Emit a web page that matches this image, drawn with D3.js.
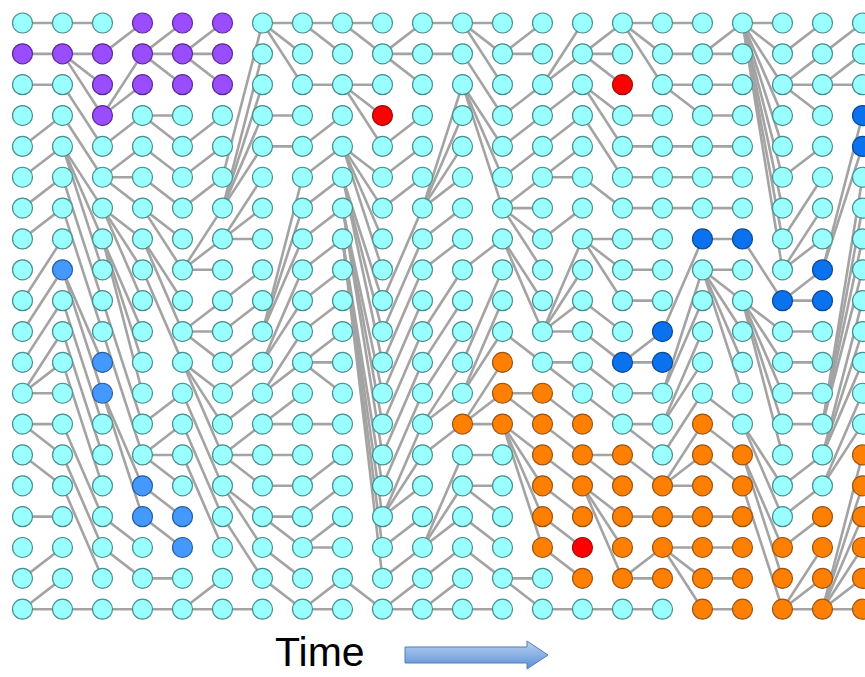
<!DOCTYPE html>
<html>
<head>
<meta charset="utf-8">
<script src="https://cdn.jsdelivr.net/npm/d3@7"></script>
<style>
  body { margin: 0; background: #fff; }
  svg { display: block; }
</style>
</head>
<body>
<svg id="chart" width="865" height="677"></svg>
<script>
// one column per generation, one row per individual
const generations = d3.range(22);
const slots = d3.range(20);

// parent row (in the previous generation) of each individual, generations 1..21
const parents = [
  [0,1,2,4,5,6,7,9,10,11,12,12,12,13,13,14,16,18,19,19],
  [0,1,1,1,2,3,4,4,4,5,6,8,8,9,10,11,13,14,15,19],
  [1,3,3,4,5,5,5,6,6,6,7,7,7,9,10,12,12,16,17,19],
  [1,1,1,3,3,4,5,6,6,7,7,8,13,14,14,14,15,16,18,19],
  [1,1,1,4,5,6,8,8,8,10,10,10,11,11,11,12,13,14,19,19],
  [5,6,6,6,6,7,7,7,9,10,11,12,13,14,14,14,15,15,16,19],
  [0,0,0,3,4,10,10,10,11,11,12,12,13,13,14,15,16,16,17,18],
  [0,0,2,4,5,6,7,8,9,10,11,11,11,13,15,16,17,17,19,19],
  [0,0,2,2,2,4,4,4,4,5,5,5,6,6,6,7,7,7,7,18],
  [1,1,1,4,5,6,9,10,11,12,13,14,15,16,16,16,17,18,19,19],
  [0,1,6,6,6,6,7,8,10,11,12,13,13,14,17,17,17,18,19,19],
  [0,0,0,1,2,2,2,8,11,12,12,13,13,13,14,15,15,16,17,19],
  [1,1,3,4,5,6,6,6,6,7,7,10,12,12,13,13,13,13,18,18],
  [2,2,3,4,5,5,7,10,10,10,10,11,11,12,13,14,15,16,17,19],
  [1,1,1,2,2,3,5,7,7,7,9,10,11,12,14,14,15,15,15,19],
  [0,0,0,3,4,5,6,7,8,9,11,11,12,13,13,14,16,18,18,19],
  [0,1,2,2,4,5,6,10,12,12,13,13,14,15,15,15,16,17,17,17],
  [1,1,2,3,4,5,6,7,8,8,8,8,8,12,13,14,16,17,18,19],
  [0,0,0,0,0,0,0,0,0,7,9,9,9,9,9,13,13,14,14,15],
  [1,2,2,2,5,7,8,8,9,9,10,11,12,13,15,16,17,19,19,19],
  [1,2,2,8,8,13,13,13,13,14,14,14,15,15,19,19,19,19,19,19]
];

// coloured lineages as [generation, row]
const purpleNodes = [[0,1],[1,1],[2,1],[2,2],[2,3],[3,0],[3,1],[3,2],[4,0],[4,1],[4,2],[5,0],[5,1],[5,2]];
const lightBlueNodes = [[1,8],[2,11],[2,12],[3,15],[3,16],[4,16],[4,17]];
const darkBlueNodes = [[15,11],[16,10],[16,11],[17,7],[18,7],[19,9],[20,8],[20,9],[21,3],[21,4]];
const redNodes = [[9,3],[15,2],[14,17]];
const orangeNodes = [
  [11,13],[12,11],[12,12],[12,13],
  [13,12],[13,13],[13,14],[13,15],[13,16],[13,17],
  [14,13],[14,14],[14,15],[14,16],[14,18],
  [15,14],[15,15],[15,16],[15,17],[15,18],
  [16,15],[16,16],[16,17],[16,18],
  [17,13],[17,14],[17,15],[17,16],[17,17],[17,18],[17,19],
  [18,14],[18,15],[18,16],[18,17],[18,18],[18,19],
  [19,17],[19,18],[19,19],
  [20,16],[20,17],[20,18],[20,19],
  [21,14],[21,15],[21,16],[21,17],[21,18],[21,19]
];
const axisLabel = 'Time';

const NODE_RADIUS_PX = 10;

const svg = d3.select('#chart');

const x = d3.scaleLinear().domain([0, 21]).range([22.5, 862.5]);
const y = d3.scaleLinear().domain([0, 19]).range([23, 609.2]);

const palette = {
  base: { fill: '#99ffff', stroke: '#4a8e8e' },
  purple: { fill: '#9a4dff', stroke: '#5b2a9a' },
  lightBlue: { fill: '#4499ff', stroke: '#2a5e9e' },
  darkBlue: { fill: '#0a72ee', stroke: '#0b4a94' },
  red: { fill: '#ff0000', stroke: '#9a1010' },
  orange: { fill: '#ff8000', stroke: '#9a5418' }
};

const colourOf = new Map();
const mark = (list, key) => list.forEach(([g, r]) => colourOf.set(g + ':' + r, key));
mark(purpleNodes, 'purple');
mark(lightBlueNodes, 'lightBlue');
mark(darkBlueNodes, 'darkBlue');
mark(orangeNodes, 'orange');
mark(redNodes, 'red');

const links = [];
parents.forEach((col, i) => {
  col.forEach((p, r) => links.push({ g: i + 1, r: r, p: p }));
});

svg.append('g')
  .attr('class', 'links')
  .selectAll('line')
  .data(links)
  .join('line')
    .attr('x1', d => x(d.g - 1))
    .attr('y1', d => y(d.p))
    .attr('x2', d => x(d.g))
    .attr('y2', d => y(d.r))
    .attr('stroke', '#a3a3a3')
    .attr('stroke-width', 2.6);

const nodes = [];
generations.forEach(g => slots.forEach(r => nodes.push({ g, r, c: colourOf.get(g + ':' + r) || 'base' })));

svg.append('g')
  .attr('class', 'nodes')
  .selectAll('circle')
  .data(nodes)
  .join('circle')
    .attr('cx', d => x(d.g))
    .attr('cy', d => y(d.r))
    .attr('r', NODE_RADIUS_PX)
    .attr('fill', d => palette[d.c].fill)
    .attr('stroke', d => palette[d.c].stroke)
    .attr('stroke-width', 1.2);

// "Time" label and block arrow
svg.append('text')
  .attr('x', 275)
  .attr('y', 666)
  .attr('font-family', 'Liberation Sans, Arial, sans-serif')
  .attr('font-size', 41)
  .attr('fill', '#000')
  .text(axisLabel);

const defs = svg.append('defs');
const grad = defs.append('linearGradient')
  .attr('id', 'arrowFill')
  .attr('x1', 0).attr('y1', 0).attr('x2', 0).attr('y2', 1);
grad.append('stop').attr('offset', '0%').attr('stop-color', '#b9d3f3');
grad.append('stop').attr('offset', '100%').attr('stop-color', '#5b8fd3');

svg.append('path')
  .attr('d', 'M405,647 L527,647 L527,641 L548,655 L527,669 L527,663 L405,663 Z')
  .attr('fill', 'url(#arrowFill)')
  .attr('stroke', '#4f7fbf')
  .attr('stroke-width', 1);
</script>
</body>
</html>
